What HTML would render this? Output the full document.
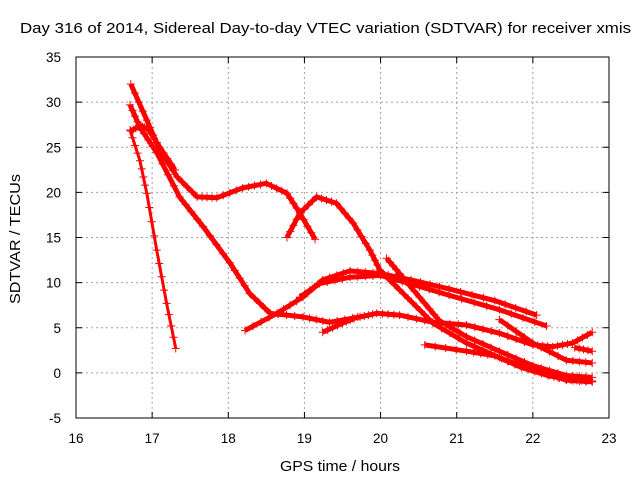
<!DOCTYPE html>
<html><head><meta charset="utf-8"><style>
body{margin:0;background:#fff}
svg text{font-family:"Liberation Sans",sans-serif;fill:#000}
</style></head><body>
<svg id="c" width="640" height="480">
<text x="20" y="33" font-size="15" textLength="611" lengthAdjust="spacingAndGlyphs">Day 316 of 2014, Sidereal Day-to-day VTEC variation (SDTVAR) for receiver xmis</text>
<text x="280" y="471" font-size="15" textLength="120" lengthAdjust="spacingAndGlyphs">GPS time / hours</text>
<text transform="translate(20,304) rotate(-90)" font-size="15" textLength="130" lengthAdjust="spacingAndGlyphs">SDTVAR / TECUs</text>
<g id="grid"></g><g id="series"></g><g id="axes"></g>
</svg>
<script>
const xTicks=[16,17,18,19,20,21,22,23];
const yTicks=[-5,0,5,10,15,20,25,30,35];
const s1t=[16.71,16.84,16.93,17.06,17.19,17.31];
const s1v=[26.9,23.5,19.9,13.6,7.7,2.7];
const s2t=[16.72,16.93,17.1,17.33,17.59,17.85,18.19,18.5,18.77,18.94,19.14];
const s2v=[32,28,24.7,21.7,19.5,19.4,20.5,21.0,19.9,17.7,14.8];
const s3t=[16.71,16.84,17.06,17.36,17.67,18.02,18.28,18.55,18.98,19.33,19.73,19.95,20.25,20.69,21.13,21.56,22.0,22.26,22.52,22.78];
const s3v=[29.7,27.2,24.4,19.5,16.2,12.2,8.8,6.6,6.2,5.6,6.2,6.6,6.4,5.6,5.3,4.4,3.1,2.9,3.3,4.5];
const s4t=[16.72,16.85,16.95,17.1,17.3];
const s4v=[26.8,27.4,27,25,22.5];
const s5t=[18.22,18.64,18.98,19.24,19.6,20.0,20.4,20.9,21.5,22.05];
const s5v=[4.7,6.6,8.4,10.3,11.3,11,10.3,9.3,8,6.4];
const s5bt=[18.94,19.2,19.6,20.0,20.38,20.9,21.56,22.18];
const s5bv=[8.4,9.9,10.6,10.8,9.9,8.6,7,5.2];
const s5ct=[19.24,19.5,19.7];
const s5cv=[4.5,5.5,6.2];
const s6t=[18.77,18.94,19.16,19.42,19.64,19.86,19.99,20.25,20.69,21.13,21.56,22.0,22.44,22.78];
const s6v=[15,17.7,19.5,18.8,16.6,13.6,11.4,9.2,5.5,3.3,1.7,0.3,-0.8,-1];
const s7t=[20.08,20.25,20.51,20.77,21.13,21.56,22.0,22.44,22.78];
const s7v=[12.7,11,8.4,5.8,4,2.4,0.8,-0.3,-0.5];
const s8t=[20.58,21.13,21.5,21.85,22.2,22.5,22.78];
const s8v=[3.1,2.4,1.9,0.6,-0.3,-0.8,-0.9];
const s9t=[21.56,22.0,22.44,22.78];
const s9v=[5.9,3.3,1.4,1.1];
const s10t=[22.55,22.78];
const s10v=[2.8,2.4];
const X0=76,X1=609,Y0=418,Y1=57;
const xs=t=>X0+(t-16)/7*(X1-X0);
const ys=v=>Y0-(v+5)/40*(Y0-Y1);
const NS="http://www.w3.org/2000/svg";
function mk(tag,attrs,parent){const e=document.createElementNS(NS,tag);for(const k in attrs)e.setAttribute(k,attrs[k]);parent.appendChild(e);return e;}
const grid=document.getElementById('grid'),axes=document.getElementById('axes'),ser=document.getElementById('series');
xTicks.forEach((t,i)=>{
 if(i>0&&i<xTicks.length-1){const l=mk('line',{x1:xs(t),x2:xs(t),y1:Y1,y2:Y0,stroke:'#a0a0a0','stroke-dasharray':'2,3'},grid);
 
 }
 mk('line',{x1:xs(t),x2:xs(t),y1:Y0,y2:Y0-6,stroke:'#000'},axes);
 mk('line',{x1:xs(t),x2:xs(t),y1:Y1,y2:Y1+6,stroke:'#000'},axes);
 const tx=mk('text',{x:xs(t),y:Y0+25,'font-size':13.5,'text-anchor':'middle'},axes);tx.textContent=t;
 
 
});
yTicks.forEach((v,i)=>{
 if(i>0&&i<yTicks.length-1){const l=mk('line',{x1:X0,x2:X1,y1:ys(v),y2:ys(v),stroke:'#a0a0a0','stroke-dasharray':'2,3'},grid);
 
 }
 mk('line',{x1:X0,x2:X0+6,y1:ys(v),y2:ys(v),stroke:'#000'},axes);
 mk('line',{x1:X1,x2:X1-6,y1:ys(v),y2:ys(v),stroke:'#000'},axes);
 const tx=mk('text',{x:X0-15,y:ys(v)+5,'font-size':13.5,'text-anchor':'end'},axes);tx.textContent=v;
 
 
});
const fr=mk('rect',{x:X0,y:Y1,width:X1-X0,height:Y0-Y1,fill:'none',stroke:'#000'},axes);


const all=[[s1t,s1v,3],[s2t,s2v,5],[s3t,s3v,5],[s4t,s4v,5],[s5t,s5v,5],[s5bt,s5bv,5],[s5ct,s5cv,5],[s6t,s6v,5],[s7t,s7v,5],[s8t,s8v,5],[s9t,s9v,5],[s10t,s10v,5]];
all.forEach(([T,V,w],k)=>{
 const pts=T.map((t,i)=>xs(t)+','+ys(V[i])).join(' ');
 const p=mk('polyline',{points:pts,fill:'none',stroke:'#f00','stroke-width':w,'stroke-linejoin':'round'},ser);
 
 
 for(let i=0;i<T.length-1;i++){for(let f=0;f<1;f+=0.25){
  const cx=xs(T[i])+(xs(T[i+1])-xs(T[i]))*f,cy=ys(V[i])+(ys(V[i+1])-ys(V[i]))*f;
  mk('path',{d:`M${cx-4},${cy}h8M${cx},${cy-4}v8`,stroke:'#f00','stroke-width':1},ser);}}
 const e=T.length-1,cx=xs(T[e]),cy=ys(V[e]);
 mk('path',{d:`M${cx-4},${cy}h8M${cx},${cy-4}v8`,stroke:'#f00','stroke-width':1},ser);
});
</script>
</body></html>
